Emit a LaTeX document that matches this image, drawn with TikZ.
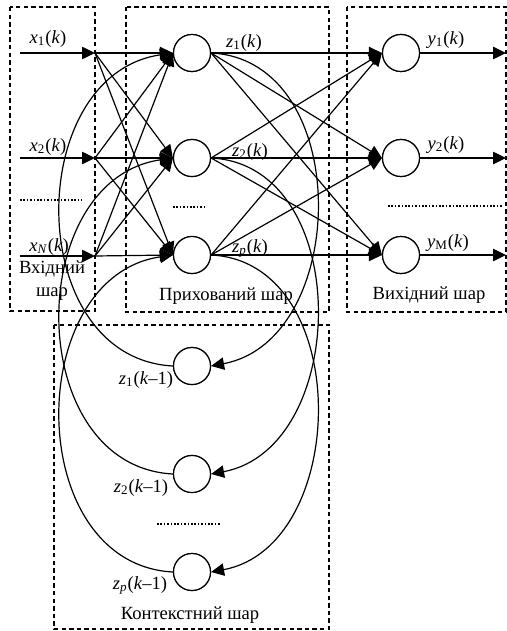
\documentclass[tikz,border=0pt]{standalone}
\usepackage{fontspec}
\setmainfont{Liberation Serif}
\usetikzlibrary{arrows.meta,positioning}
\tikzset{
  neuron/.style={circle,draw,fill=white,minimum size=18.5pt,inner sep=0pt,line width=0.6pt},
  layerbox/.style={draw,dash pattern=on 2.2pt off 1.6pt,line width=0.6pt},
  link/.style={-{Triangle[length=6.5pt,width=6.2pt]},line width=0.6pt},
  loopback/.style={-{Triangle[length=6.5pt,width=6.2pt]},line width=0.6pt},
  dotrow/.style={line width=0.9pt,dash pattern=on 0.8pt off 0.9pt},
  siglabel/.style={font=\fontsize{9.3}{11}\selectfont,inner sep=0pt},
  layername/.style={font=\fontsize{9.3}{11.5}\selectfont,align=center,inner sep=0pt}
}
\newcommand{\sig}[3]{\textit{#1}\textsubscript{#2}(#3)}

\begin{document}
\begin{tikzpicture}[x=0.5pt,y=-0.5pt]
\useasboundingbox (0,0) rectangle (507,631);
% layer frames
\draw[layerbox] (10,7) rectangle (95,311);
\draw[layerbox] (126,7) rectangle (329,312);
\draw[layerbox] (347,7) rectangle (506,312);
\draw[layerbox] (54,325) rectangle (329,629);
% inputs
\coordinate (s1) at (20,53);
\coordinate (s2) at (20,158);
\coordinate (sn) at (20,256);
\coordinate (in1) at (95,53);
\coordinate (in2) at (95,158);
\coordinate (inn) at (95,256);
% neurons
\node[neuron] (h1) at (192,53) {};
\node[neuron] (h2) at (192,158) {};
\node[neuron] (hp) at (192,255) {};
\node[neuron] (o1) at (401,53) {};
\node[neuron] (o2) at (401,158) {};
\node[neuron] (om) at (401,255) {};
\node[neuron] (c1) at (192,366) {};
\node[neuron] (c2) at (192,474) {};
\node[neuron] (cp) at (192,572) {};
\coordinate (e1) at (506,53);
\coordinate (e2) at (506,158);
\coordinate (em) at (506,255);
% connections
\foreach \i in {1,2,n} \draw[link] (s\i) -- (in\i);
\foreach \i in {1,2,n}
  \foreach \j in {1,2,p} \draw[link] (in\i) -- (h\j.west);
\foreach \i in {1,2,p}
  \foreach \j in {1,2,m} \draw[link] (h\i.east) -- (o\j.west);
\foreach \j in {1,2,m} \draw[link] (o\j) -- (e\j);
% feedback loops
\foreach \i in {1,2,p} {
  \draw[loopback] (h\i.east) .. controls +(143,7) and +(139,-26) .. (c\i.east);
  \draw[loopback] (c\i.west) .. controls +(-150,-8) and +(-150,22) .. (h\i.west);
}
% neurons on top
\foreach \n in {h1,h2,hp,o1,o2,om,c1,c2,cp} \node[neuron] at (\n) {};
% dotted rows
\draw[dotrow] (20,200) -- (82,200);
\draw[dotrow] (173,207) -- (204,207);
\draw[dotrow] (388,206) -- (503,206);
\draw[dotrow] (157,524) -- (220,524);
% signal labels
\node[siglabel] (lx1) at (48,39) {\sig{x}{1}{\textit{k}}};
\node[siglabel] (lx2) at (48,147) {\sig{x}{2}{\textit{k}}};
\node[siglabel] (lxn) at (49,247) {\sig{x}{\textit{N}}{\textit{k}}};
\node[siglabel] (lz1) at (244,43) {\sig{z}{1}{\textit{k}}};
\node[siglabel] (lz2) at (250,152) {\sig{z}{2}{\textit{k}}};
\node[siglabel] (lzp) at (250,248) {\sig{z}{\textit{p}}{\textit{k}}};
\node[siglabel] (ly1) at (446,40) {\sig{y}{1}{\textit{k}}};
\node[siglabel] (ly2) at (446,145) {\sig{y}{2}{\textit{k}}};
\node[siglabel] (lym) at (448,243) {\sig{y}{M}{\textit{k}}};
\node[siglabel] (lc1) at (146,380) {\sig{z}{1}{\textit{k}--1}};
\node[siglabel] (lc2) at (141,488) {\sig{z}{2}{\textit{k}--1}};
\node[siglabel] (lcp) at (140,585) {\sig{z}{\textit{p}}{\textit{k}--1}};
% layer names
\node[layername] (nin) at (52,281) {Вхідний\\шар};
\node[layername] (nhid) at (226,296) {Прихований шар};
\node[layername] (nout) at (429,295) {Вихідний шар};
\node[layername] (nctx) at (190,615) {Контекстний шар};
\end{tikzpicture}
\end{document}
